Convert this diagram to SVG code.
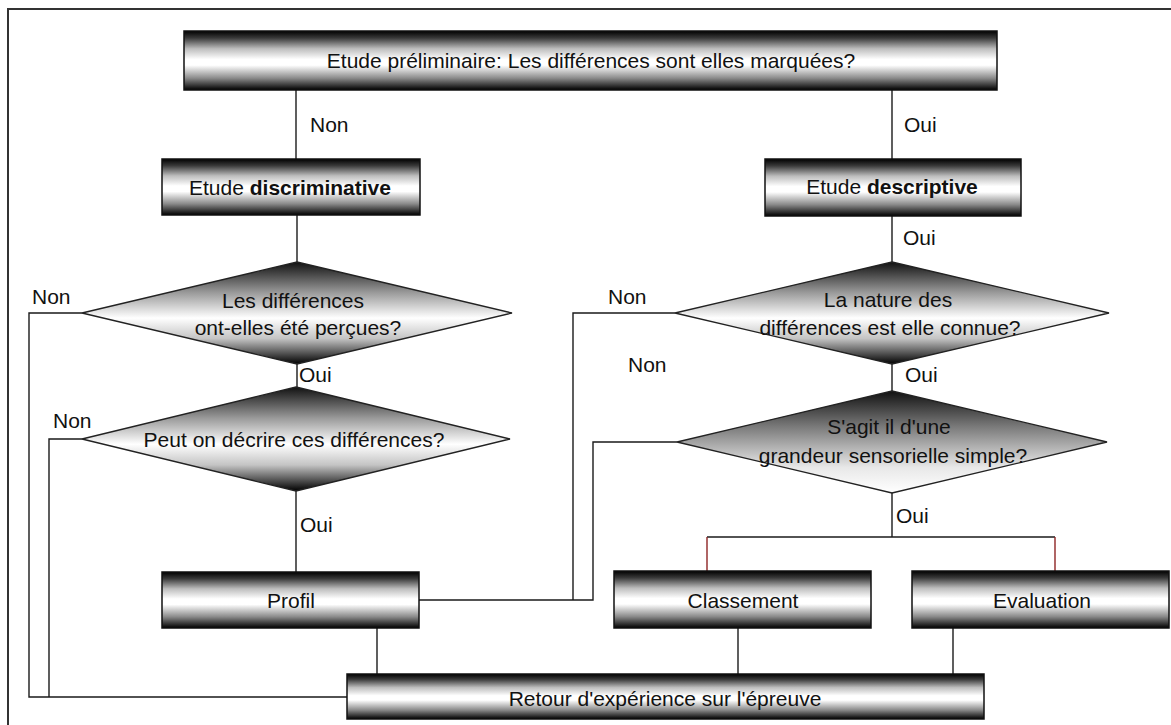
<svg xmlns="http://www.w3.org/2000/svg" width="1171" height="725" viewBox="0 0 1171 725">
  <defs>
    <!-- cylinder-like shading for the process boxes -->
    <linearGradient id="gBox" x1="0" y1="0" x2="0" y2="1">
      <stop offset="0" stop-color="#000"/>
      <stop offset="0.12" stop-color="#3a3a3a"/>
      <stop offset="0.3" stop-color="#bdbdbd"/>
      <stop offset="0.48" stop-color="#fff"/>
      <stop offset="0.58" stop-color="#fff"/>
      <stop offset="0.8" stop-color="#8a8a8a"/>
      <stop offset="1" stop-color="#000"/>
    </linearGradient>
    <!-- decision shading: dark tips, light middle -->
    <linearGradient id="gDia" x1="0" y1="0" x2="0" y2="1">
      <stop offset="0" stop-color="#111"/>
      <stop offset="0.3" stop-color="#9a9a9a"/>
      <stop offset="0.55" stop-color="#fff"/>
      <stop offset="0.75" stop-color="#c4c4c4"/>
      <stop offset="1" stop-color="#000"/>
    </linearGradient>
    <!-- decision shading: dark top fading to white -->
    <linearGradient id="gDiaDown" x1="0" y1="0" x2="0" y2="1">
      <stop offset="0" stop-color="#111"/>
      <stop offset="0.35" stop-color="#7a7a7a"/>
      <stop offset="0.75" stop-color="#e8e8e8"/>
      <stop offset="1" stop-color="#fff"/>
    </linearGradient>
    <style>
      .box { fill: url(#gBox); stroke: #111; stroke-width: 1.5; }
      .dia { fill: url(#gDia); stroke: #222; stroke-width: 1.3; }
      .dia2 { fill: url(#gDiaDown); stroke: #222; stroke-width: 1.3; }
      .wire { fill: none; stroke: #1a1a1a; stroke-width: 1.4; }
      .wire-red { fill: none; stroke: #8e2424; stroke-width: 1.4; }
      text { font-family: "Liberation Sans", Arial, sans-serif; font-size: 21px; fill: #111; }
      .c { text-anchor: middle; }
      .b { font-weight: bold; }
    </style>
  </defs>

  <rect width="1171" height="725" fill="#fff"/>

  <!-- outer frame (top and left edges) -->
  <path d="M8,725 V9 H1171" fill="none" stroke="#333" stroke-width="2"/>

  <!-- connectors -->
  <g id="connectors">
    <path class="wire" d="M296,90 V159"/>
    <path class="wire" d="M892,90 V159"/>
    <path class="wire" d="M297,215 V262"/>
    <path class="wire" d="M892,216 V262"/>
    <path class="wire" d="M297,364 V387"/>
    <path class="wire" d="M892,364 V391"/>
    <path class="wire" d="M82,313 H29 V697 H347"/>
    <path class="wire" d="M82,439 H49 V697"/>
    <path class="wire" d="M296,491 V572"/>
    <path class="wire" d="M377,628 V674"/>
    <path class="wire" d="M738,628 V674"/>
    <path class="wire" d="M953,628 V674"/>
    <path class="wire" d="M419,600 H593 V442 H677"/>
    <path class="wire" d="M675,313 H573 V600"/>
    <path class="wire" d="M892,493 V537"/>
    <path class="wire" d="M707,537 H1055"/>
    <path class="wire-red" d="M707,537 V571"/>
    <path class="wire-red" d="M1055,537 V571"/>
  </g>

  <!-- branch labels -->
  <g id="labels">
    <text x="310" y="132">Non</text>
    <text x="904" y="132">Oui</text>
    <text x="903" y="245">Oui</text>
    <text x="32" y="304">Non</text>
    <text x="608" y="304">Non</text>
    <text x="299" y="382">Oui</text>
    <text x="905" y="382">Oui</text>
    <text x="628" y="372">Non</text>
    <text x="53" y="428">Non</text>
    <text x="300" y="532">Oui</text>
    <text x="896" y="523">Oui</text>
  </g>

  <g id="etude-preliminaire">
    <rect class="box" x="184" y="31" width="813" height="59"/>
    <text class="c" x="591" y="68">Etude préliminaire: Les différences sont elles marquées?</text>
  </g>

  <g id="etude-discriminative">
    <rect class="box" x="162" y="159" width="258" height="56"/>
    <text class="c" x="290" y="195">Etude <tspan class="b">discriminative</tspan></text>
  </g>

  <g id="etude-descriptive">
    <rect class="box" x="765" y="159" width="256" height="57"/>
    <text class="c" x="892" y="194">Etude <tspan class="b">descriptive</tspan></text>
  </g>

  <g id="differences-percues">
    <polygon class="dia" points="297,262 512,313 297,364 82,313"/>
    <text class="c" x="293" y="308">Les différences</text>
    <text class="c" x="298" y="335">ont-elles été perçues?</text>
  </g>

  <g id="decrire-differences">
    <polygon class="dia" points="296,387 510,439 296,491 82,439"/>
    <text class="c" x="294" y="447">Peut on décrire ces différences?</text>
  </g>

  <g id="nature-connue">
    <polygon class="dia" points="892,262 1109,313 892,364 675,313"/>
    <text class="c" x="888" y="307">La nature des</text>
    <text class="c" x="890" y="335">différences est elle connue?</text>
  </g>

  <g id="grandeur-simple">
    <polygon class="dia2" points="892,391 1107,442 892,493 677,442"/>
    <text class="c" x="889" y="434">S'agit il d'une</text>
    <text class="c" x="893" y="463">grandeur sensorielle simple?</text>
  </g>

  <g id="profil">
    <rect class="box" x="162" y="572" width="257" height="56"/>
    <text class="c" x="291" y="608">Profil</text>
  </g>

  <g id="classement">
    <rect class="box" x="614" y="571" width="257" height="57"/>
    <text class="c" x="743" y="608">Classement</text>
  </g>

  <g id="evaluation">
    <rect class="box" x="912" y="571" width="257" height="57"/>
    <text class="c" x="1042" y="608">Evaluation</text>
  </g>

  <g id="retour-experience">
    <rect class="box" x="347" y="674" width="637" height="45"/>
    <text class="c" x="665" y="706">Retour d'expérience sur l'épreuve</text>
  </g>
</svg>
